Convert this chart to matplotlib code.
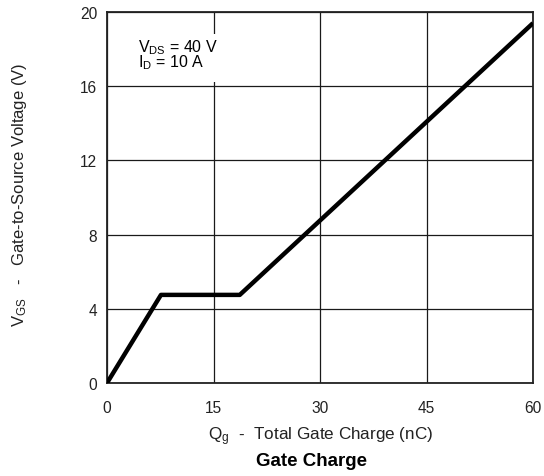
import numpy as np
import matplotlib.pyplot as plt
from matplotlib.patches import Rectangle

plt.rcParams['font.family'] = ['Liberation Sans', 'DejaVu Sans']
plt.rcParams['mathtext.fontset'] = 'custom'
plt.rcParams['mathtext.rm'] = 'Liberation Sans'
plt.rcParams['mathtext.it'] = 'Liberation Sans'

# gate charge curve (nC, V)
qg = [0, 7.6, 18.7, 60]
vgs = [0, 4.75, 4.75, 19.4]

x_ticks = [0, 15, 30, 45, 60]
y_ticks = [0, 4, 8, 12, 16, 20]

fig = plt.figure(figsize=(5.44, 4.77), dpi=100)
ax = fig.add_axes([107 / 544, 1 - 384 / 477, 426 / 544, 371 / 477])

ax.plot(qg, vgs, color='black', lw=3.2, solid_capstyle='butt', zorder=3)

ax.set_xlim(0, 60)
ax.set_ylim(0, 20)
ax.set_xticks(x_ticks)
ax.set_yticks(y_ticks)
ax.grid(True, color='#1a1a1a', lw=0.9)
ax.tick_params(length=0, labelsize=11.2, colors='#222222')
ax.tick_params(axis='x', pad=12)
ax.tick_params(axis='y', pad=7)
for s in ax.spines.values():
    s.set_linewidth(1.3)
    s.set_color('#222222')

# test conditions, on a white patch that hides the grid behind it
ax.add_patch(Rectangle((0.054, 0.81), 0.225, 0.13, transform=ax.transAxes,
                       fc='white', ec='none', zorder=2.5))
ax.text(0.072, 0.932,
        r'V$_{\mathrm{DS}}$ = 40 V' + '\n' + r'I$_{\mathrm{D}}$ = 10 A',
        transform=ax.transAxes, fontsize=11.5, va='top', linespacing=0.72,
        zorder=4)

fig.text(321 / 544, 1 - 437 / 477, r'Q$_{\mathrm{g}}$  -  Total Gate Charge (nC)',
         ha='center', va='center', fontsize=12.3, color='#222222')
fig.text(312 / 544, 1 - 462 / 477, 'Gate Charge', ha='center', va='center',
         fontsize=13.5, fontweight='bold')
fig.text(20 / 544, 1 - 195 / 477, r'V$_{\mathrm{GS}}$   -   Gate-to-Source Voltage (V)',
         ha='center', va='center', rotation=90, fontsize=12, color='#222222')

fig.savefig('out.png', dpi=100)
